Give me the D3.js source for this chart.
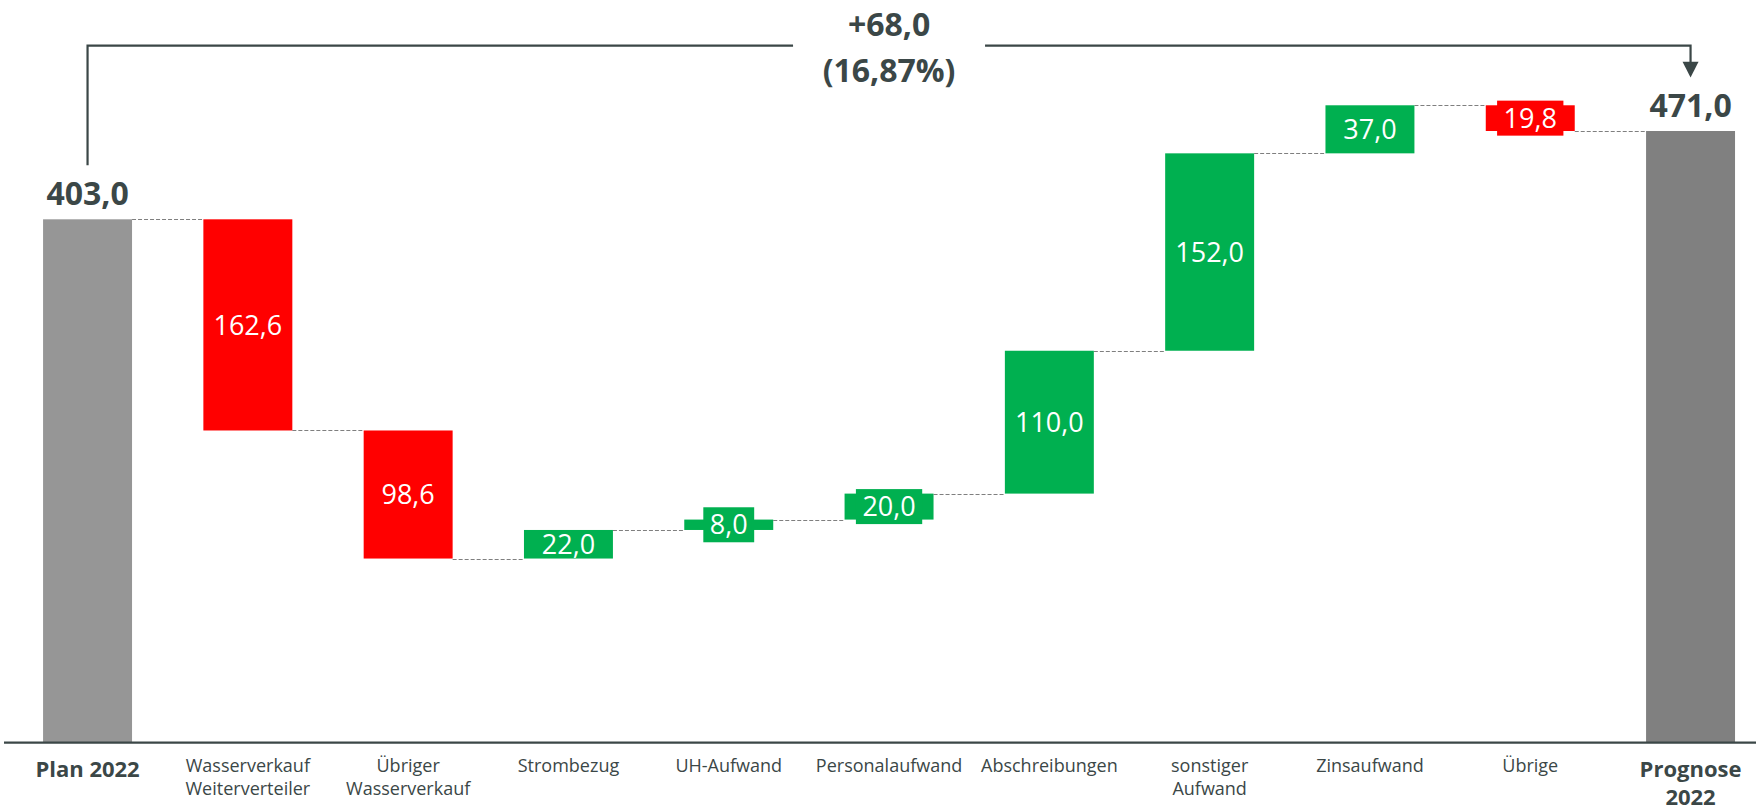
<!DOCTYPE html>
<html>
<head>
<meta charset="utf-8">
<script src="https://cdn.jsdelivr.net/npm/d3@7"></script>
<style>
  body { margin: 0; background: #fff; }
  svg { display: block; font-family: "Open Sans", sans-serif; }
</style>
</head>
<body>
<svg id="chart" width="1756" height="811"></svg>
<script>
// data
var categories = ["Plan 2022", "Wasserverkauf\nWeiterverteiler", "Übriger\nWasserverkauf", "Strombezug",
  "UH-Aufwand", "Personalaufwand", "Abschreibungen", "sonstiger\nAufwand", "Zinsaufwand", "Übrige", "Prognose\n2022"];
var values = [403.0, -162.6, -98.6, 22.0, 8.0, 20.0, 110.0, 152.0, 37.0, -19.8, 471.0];
var isTotal = [true, false, false, false, false, false, false, false, false, false, true];

var textCol = "#3b4747";
var de = d3.formatLocale({decimal: ",", thousands: ".", grouping: [3], currency: ["", "€"]});
var fmt = de.format(".1f");
var fmtPct = de.format(".2f");

// running totals
var rows = [];
var run = 0;
categories.forEach(function(c, i) {
  var v = values[i];
  var r;
  if (isTotal[i]) {
    r = {cat: c, v: v, y0: 0, y1: v, end: v, total: true};
    run = v;
  } else {
    r = {cat: c, v: v, y0: run, y1: run + v, end: run + v, total: false};
    run = run + v;
  }
  r.i = i;
  rows.push(r);
});

var svg = d3.select("#chart");

var x = d3.scaleBand().domain(categories).range([7.4, 1770.7]).paddingInner(0.445).paddingOuter(0.2225);
var y = d3.scaleLinear().domain([0, 471]).range([742.7, 131]);

function barColor(d) {
  if (d.total) return d.i == 0 ? "#969696" : "#808080";
  return d.v < 0 ? "#ff0000" : "#00b050";
}

// connectors
svg.append("g").selectAll("line").data(rows.slice(0, rows.length - 1)).enter()
  .append("line")
  .attr("x1", function(d) { return x(d.cat) + x.bandwidth(); })
  .attr("x2", function(d, i) { return x(categories[i + 1]); })
  .attr("y1", function(d) { return Math.round(y(d.end)) + 0.5; })
  .attr("y2", function(d) { return Math.round(y(d.end)) + 0.5; })
  .attr("stroke", "#7f7f7f")
  .attr("stroke-width", 1.2)
  .attr("stroke-dasharray", "4,2");

// bars
svg.append("g").selectAll("rect").data(rows).enter()
  .append("rect")
  .attr("x", function(d) { return x(d.cat); })
  .attr("width", x.bandwidth())
  .attr("y", function(d) { return y(Math.max(d.y0, d.y1)); })
  .attr("height", function(d) { return Math.abs(y(d.y0) - y(d.y1)); })
  .attr("fill", barColor);

// value labels inside delta bars
var deltas = rows.filter(function(d) { return !d.total; });
var boxG = svg.append("g");
var lab = svg.append("g").selectAll("text").data(deltas).enter()
  .append("text")
  .attr("x", function(d) { return x(d.cat) + x.bandwidth() / 2; })
  .attr("y", function(d) { return (y(d.y0) + y(d.y1)) / 2; })
  .attr("dy", "0.36em")
  .attr("text-anchor", "middle")
  .attr("fill", "#fff")
  .attr("font-size", 27)
  .text(function(d) { return fmt(Math.abs(d.v)); });

// label boxes for short bars
lab.each(function(d) {
  var h = Math.abs(y(d.y0) - y(d.y1));
  if (h >= 27) return;
  var w = this.getComputedTextLength() + 13;
  var cx = x(d.cat) + x.bandwidth() / 2;
  var cy = (y(d.y0) + y(d.y1)) / 2;
  boxG.append("rect")
    .attr("x", cx - w / 2).attr("width", w)
    .attr("y", cy - 17.5).attr("height", 35)
    .attr("fill", barColor(d));
});

// total labels
svg.append("g").selectAll("text").data(rows.filter(function(d) { return d.total; })).enter()
  .append("text")
  .attr("x", function(d) { return x(d.cat) + x.bandwidth() / 2; })
  .attr("y", function(d) { return y(d.y1) - 14; })
  .attr("text-anchor", "middle")
  .attr("font-size", 32)
  .attr("font-weight", "bold")
  .attr("fill", textCol)
  .text(function(d) { return fmt(d.v); });

// x axis line
svg.append("line")
  .attr("x1", 4).attr("x2", 1756)
  .attr("y1", y(0)).attr("y2", y(0))
  .attr("stroke", textCol).attr("stroke-width", 2.2);

// category labels
var cl = svg.append("g").selectAll("text").data(rows).enter()
  .append("text")
  .attr("text-anchor", "middle")
  .attr("fill", textCol)
  .attr("font-size", function(d) { return d.total ? 22 : 18; })
  .attr("font-weight", function(d) { return d.total ? "bold" : "normal"; });
cl.each(function(d) {
  var t = d3.select(this);
  var lines = d.cat.split("\n");
  var cx = x(d.cat) + x.bandwidth() / 2;
  lines.forEach(function(s, k) {
    t.append("tspan")
      .attr("x", cx)
      .attr("y", d.total ? 776.7 + k * 28 : 772.3 + k * 22.5)
      .text(s);
  });
});

// difference bracket
var first = rows[0], last = rows[rows.length - 1];
var xa = x(first.cat) + x.bandwidth() / 2;
var xb = x(last.cat) + x.bandwidth() / 2;
var xm = (xa + xb) / 2;
var yTop = 45.7;
var bracket = svg.append("g").attr("fill", "none").attr("stroke", textCol).attr("stroke-width", 2.2);
bracket.append("path").attr("d", "M" + xa + "," + (y(first.v) - 54) + "V" + yTop + "H" + (xm - 96));
bracket.append("path").attr("d", "M" + (xm + 96) + "," + yTop + "H" + xb + "V" + 63);
svg.append("path")
  .attr("d", "M" + (xb - 8) + ",61.7L" + (xb + 8) + ",61.7L" + xb + ",77.5Z")
  .attr("fill", textCol);

var diff = last.v - first.v;
svg.append("text")
  .attr("x", xm).attr("y", 36)
  .attr("text-anchor", "middle")
  .attr("font-size", 32).attr("font-weight", "bold").attr("fill", textCol)
  .text((diff >= 0 ? "+" : "") + fmt(diff));
svg.append("text")
  .attr("x", xm).attr("y", 81.7)
  .attr("text-anchor", "middle")
  .attr("font-size", 32).attr("font-weight", "bold").attr("fill", textCol)
  .text("(" + fmtPct(diff / first.v * 100) + "%)");
</script>
</body>
</html>
